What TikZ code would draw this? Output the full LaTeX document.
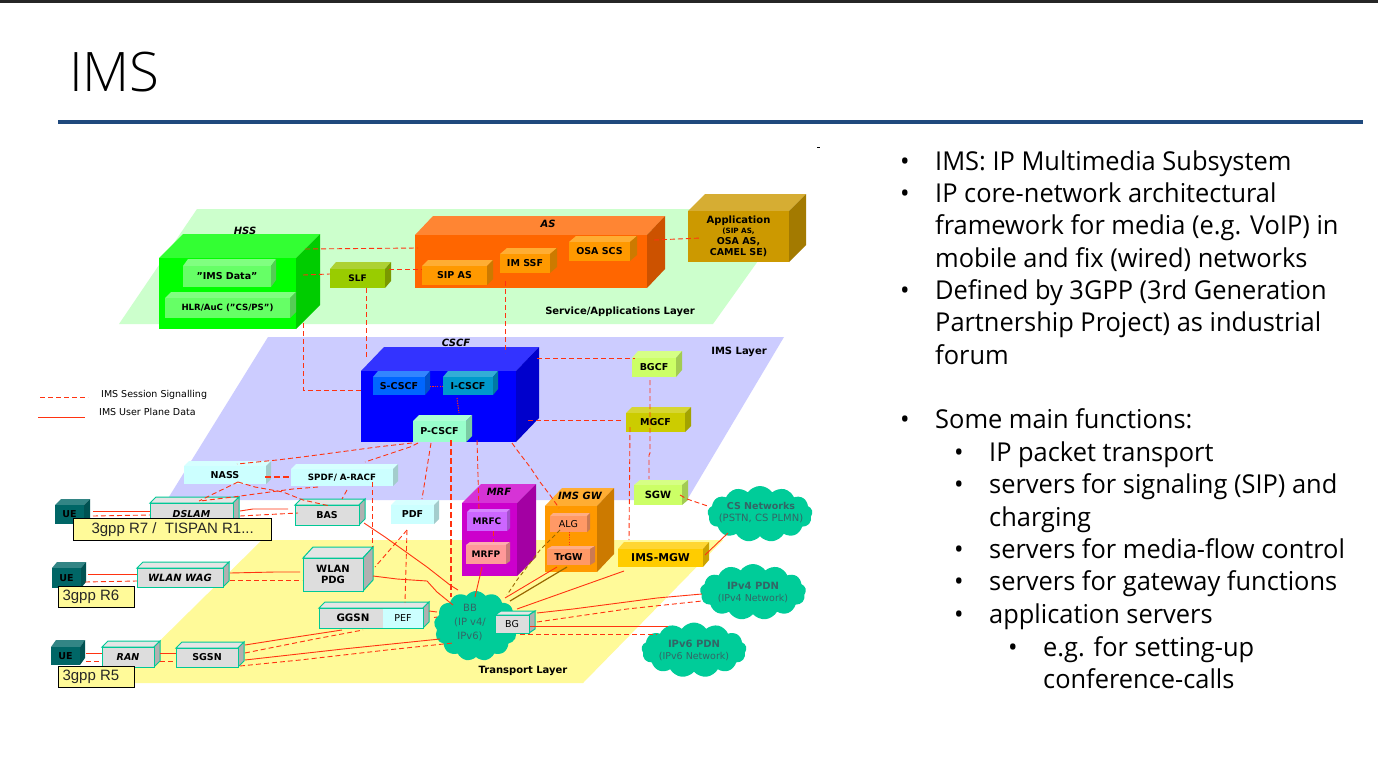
\documentclass[tikz,border=0pt]{standalone}
\usepackage{fontspec}
\usetikzlibrary{shapes.symbols}
\setmainfont{DejaVu Sans}
\newfontfamily\slidef[FakeStretch=0.977]{Open Sans}
\newfontfamily\titlef{Open Sans Light}
\newfontfamily\labf{Liberation Sans}
\newcommand\fsz[1]{\fontsize{#1}{12}\selectfont}
\newcommand\boxcol[4]{\definecolor{#1F}{HTML}{#2}\definecolor{#1T}{HTML}{#3}\definecolor{#1S}{HTML}{#4}\tikzset{#1E/.style={}}}
\boxcol{hss}{00FF00}{33FF33}{00CC00}
\boxcol{lime}{66FF66}{80FF80}{55CC55}
\boxcol{slf}{99CC00}{ADD133}{7A9900}
\boxcol{as}{FF6600}{FF8533}{CC5200}
\boxcol{org}{FF9900}{FFAD33}{CC7A00}
\boxcol{app}{CC9900}{D6AD33}{A37A00}
\boxcol{cscf}{0000FF}{3333FF}{0000CC}
\boxcol{sc}{0066FF}{3385FF}{0052CC}
\boxcol{ic}{0099CC}{33ADD6}{007AA3}
\boxcol{pc}{99FFCC}{ADFFD6}{7ACCA3}
\boxcol{bg}{CCFF66}{D6FF85}{A3CC52}
\boxcol{mg}{CCCC00}{D6D633}{A3A300}
\boxcol{cy}{CCFFFF}{D6FFFF}{A3CCCC}
\boxcol{gr}{DDDDDD}{E5E5E5}{B0B0B0}
\boxcol{ue}{006666}{338585}{005252}
\boxcol{mrf}{CC00CC}{D633D6}{A300A3}
\boxcol{mrfc}{CC66FF}{D685FF}{A352CC}
\boxcol{mrfp}{FF9999}{FFADAD}{CC7A7A}
\boxcol{alg}{FF9966}{FFAD85}{CC7A52}
\boxcol{mgw}{FFCC00}{FFD633}{CCA300}
\definecolor{edgeteal}{HTML}{00C896}
\definecolor{line}{HTML}{FF3311}
\definecolor{olive}{HTML}{996600}
\definecolor{cloudc}{HTML}{00CC99}
\definecolor{cloudt}{HTML}{336666}
\definecolor{rule}{HTML}{1F497D}
\tikzset{grE/.style={draw=edgeteal,line width=1pt}}
\tikzset{
 diag/.style={font=\fontsize{9.5}{11}\selectfont\bfseries,align=center,inner sep=0pt},
 diagit/.style={font=\fontsize{10}{11}\selectfont\bfseries\itshape,align=center,inner sep=0pt},
 layerl/.style={font=\fontsize{10}{11}\selectfont\bfseries,align=center,inner sep=0pt},
 sig/.style={draw=line,line width=.9pt,dash pattern=on 5pt off 3pt},
 sigthick/.style={draw=line,line width=2pt,dash pattern=on 6pt off 3pt},
 dotl/.style={draw=line,line width=1pt,dash pattern=on 1.2pt off 1.2pt},
 data/.style={draw=line,line width=.9pt},
 oldash/.style={draw=olive,line width=.9pt,dash pattern=on 4pt off 3pt},
 olsolid/.style={draw=olive,line width=1.2pt},
 rlabel/.style={draw=black,line width=1.3pt,fill=yellow!40!white,inner sep=0pt,anchor=north west,font=\fontsize{15}{17}\selectfont\labf,text=black!85},
 nuage/.style={cloud,cloud puffs=13,cloud puff arc=110,fill=cloudc,inner sep=0pt,cloud ignores aspect,align=center,text=cloudt,font=\fontsize{9.5}{12}\selectfont},
 slide/.style={anchor=base west,inner sep=0pt,font=\fontsize{26}{32}\selectfont\slidef,text=black},
 dot/.style={anchor=base,inner sep=0pt,font=\fontsize{26}{32}\selectfont\slidef,text=black},
}
% name x1 y1 x2 y2 dx dy family text
\newcommand\cub[9]{%
 \path[fill=#8T,#8E] (#2,#3) -- ++(#6,-#7) -- (#4+#6,#3-#7) -- (#4,#3) -- cycle;
 \path[fill=#8S,#8E] (#4,#3) -- (#4+#6,#3-#7) -- (#4+#6,#5-#7) -- (#4,#5) -- cycle;
 \pgfmathsetmacro\cubw{#4-#2}\pgfmathsetmacro\cubh{#5-#3}
 \node[diag,#8E,fill=#8F,minimum width=\cubw pt,minimum height=\cubh pt,outer sep=0pt,anchor=north west,rectangle] (#1) at (#2,#3) {#9};
}
\begin{document}
\begin{tikzpicture}[x=1pt,y=-1pt]
\useasboundingbox (0,0) rectangle (1378,765);
\fill[white] (0,0) rectangle (1378,765);
\fill[black!85] (0,0) rectangle (1378,3.5);
\node[anchor=base west,inner sep=0pt,font=\fontsize{54.5}{60}\selectfont\titlef] (title) at (69,92) {IMS};
\fill[rule] (58,120) rectangle (1363,124);
\fill[black] (817,147) rectangle (820,148);
% layers
\fill[hssF!20!white] (197,209) -- (795,209) -- (713,324) -- (119,324) -- cycle;
\fill[cscfF!20!white] (268,337) -- (784,337) -- (687,500) -- (167,500) -- cycle;
\fill[yellow!40!white] (262,540) -- (723,540) -- (583,683) -- (117,683) -- cycle;
% clouds
\node[nuage,minimum width=105pt,minimum height=56pt] (cs) at (760,514) {};
\node[inner sep=0pt,align=center,text=cloudt] (cst) at (761,513) {\bfseries\fsz{9.5}CS Networks\\\fsz{10}(PSTN, CS PLMN)};
\node[nuage,minimum width=106pt,minimum height=56pt] (ipv4) at (753,592) {\fontsize{10}{13}\selectfont\bfseries IPv4 PDN\\\fontsize{9.5}{12}\selectfont\mdseries (IPv4 Network)};
\node[nuage,minimum width=105pt,minimum height=55pt] (ipv6) at (694,650) {\fontsize{10}{13}\selectfont\bfseries IPv6 PDN\\\fontsize{9.5}{12}\selectfont\mdseries (IPv6 Network)};
\node[nuage,minimum width=84pt,minimum height=70pt] (bb) at (476,626) {};
\node[inner sep=0pt,align=center,text=cloudt,font=\fontsize{10}{14}\selectfont] (bbt) at (470,623) {BB\\(IP v4/\\IPv6)};
% boxes
\cub{hss}{159}{258}{296}{329}{24}{24}{hss}{}
\cub{imsd}{183}{266}{271}{287}{5}{7}{lime}{"IMS Data"}
\cub{hlr}{165}{298}{290}{318}{6}{6}{lime}{\fsz{8.6}HLR/AuC ("CS/PS")}
\cub{slf}{330}{269}{385}{288}{6}{7}{slf}{\fsz{9}SLF}
\cub{as}{415}{235}{647}{288}{18}{19}{as}{}
\cub{sipas}{422}{266}{487}{285}{6}{6}{org}{SIP AS}
\cub{imssf}{500}{254}{550}{273}{7}{6}{org}{IM SSF}
\cub{osa}{569}{242}{630}{261}{7}{6}{org}{OSA SCS}
\cub{app}{688}{211}{789}{262}{17}{17}{app}{\fontsize{10}{11}\selectfont Application\\[-1pt]\fontsize{7.2}{9.5}\selectfont (SIP AS,\\OSA AS,\\CAMEL SE)}
\cub{cscf}{361}{371}{516}{442}{23}{24}{cscf}{}
\cub{scscf}{373}{377}{425}{395}{5}{6}{sc}{S-CSCF}
\cub{icscf}{443}{377}{493}{395}{5}{6}{ic}{I-CSCF}
\cub{pcscf}{413}{421}{466}{442}{6}{6}{pc}{P-CSCF}
\cub{bgcf}{632}{358}{676}{377}{6}{7}{bg}{BGCF}
\cub{mgcf}{626}{413}{685}{432}{6}{6}{mg}{MGCF}
\cub{nass}{184}{466}{266}{484}{5}{5}{cy}{NASS}
\cub{spdf}{291}{469}{393}{486}{5}{5}{cy}{\fsz{8.7}SPDF/ A-RACF}
\cub{dslam}{150}{503}{233}{525}{6}{6}{gr}{\itshape DSLAM}
\cub{bas}{295}{505}{359}{525}{6}{6}{gr}{BAS}
\cub{pdf}{391}{505}{434}{524}{5}{5}{cy}{PDF}
\cub{ueA}{55}{505}{84}{524}{6}{6}{ue}{UE}
\cub{ueB}{52}{568}{81}{588}{5}{6}{ue}{UE}
\cub{ueC}{51}{647}{80}{665}{5}{7}{ue}{UE}
\cub{wag}{137}{568}{223}{587}{6}{6}{gr}{\itshape\fsz{10}WLAN WAG}
\cub{pdg}{303}{558}{363}{591}{10}{11}{gr}{\fsz{10}WLAN\\\fsz{10}PDG}
\cub{ggsn}{319}{608}{423}{628}{6}{6}{gr}{}
\cub{ran}{102}{647}{154}{667}{6}{6}{gr}{\itshape RAN}
\cub{sgsn}{176}{648}{238}{667}{6}{6}{gr}{SGSN}
\cub{mrf}{462}{503}{517}{576}{19}{19}{mrf}{}
\cub{mrfc}{467}{512}{507}{531}{3}{3}{mrfc}{\fsz{9}MRFC}
\cub{mrfp}{466}{545}{506}{564}{4}{3}{mrfp}{\fsz{9}MRFP}
\cub{imsgw}{545}{506}{597}{572}{17}{18}{org}{}
\cub{alg}{550}{516}{587}{532}{3}{3}{alg}{\mdseries ALG}
\cub{trgw}{547}{549}{590}{565}{5}{3}{alg}{TrGW}
\cub{mgw}{618}{549}{703}{567}{6}{7}{mgw}{\fsz{10.8}IMS-MGW}
\cub{sgw}{634}{485}{682}{505}{6}{5}{bg}{\fsz{10}SGW}
\node[diag,fill=cyF,minimum width=40pt,minimum height=19pt,outer sep=0pt,anchor=north west] (pef) at (383,608.5) {\mdseries PEF};
\node[diag,anchor=center] (ggsnt) at (353,618) {\fsz{10.3}GGSN};
% connectors
\draw[sig] ([shift={(146,-9)}]hss.north west) -- ([shift={(3,13)}]as.north west);
\draw[sig] ([shift={(144,17)}]hss.north west) -- ([shift={(0,5)}]slf.north west);
\draw[sig] ([shift={(59,0)}]slf.north west) -- ([shift={(0,3)}]sipas.north west);
\draw[sig] ([shift={(144,65)}]hss.north west) -- (303,390) -- ([shift={(0,19)}]cscf.north west);
\draw[sig] ([shift={(36,19)}]slf.north west) -- ([shift={(5,-14)}]cscf.north west);
\draw[sig] ([shift={(5,27)}]imssf.north west) -- ([shift={(144,-18)}]cscf.north west);
\draw[sig] ([shift={(239,5)}]as.north west) -- ([shift={(13,27)}]app.north west);
\draw[sig] ([shift={(176,-13)}]cscf.north west) -- ([shift={(3,0)}]bgcf.north west);
\draw[sig] ([shift={(18,22)}]bgcf.north west) -- (650,453) -- (649,455) -- ([shift={(15,-6)}]sgw.north west);
\draw[sig] ([shift={(167,49)}]cscf.north west) -- ([shift={(-4,7)}]mgcf.north west);
\draw[sig] ([shift={(4,14)}]mgcf.north west) -- ([shift={(11,-9)}]mgw.north west);
\draw[dotl] ([shift={(57,9)}]scscf.north west) -- ([shift={(0,9)}]icscf.north west);
\draw[dotl] ([shift={(14,21)}]icscf.north west) -- ([shift={(46,-8)}]pcscf.north west);
\draw[sig] ([shift={(46,10)}]sgw.north west) -- (687,499) -- ([shift={(0,-8)}]cs.west);
\draw[sig] ([shift={(-1,22)}]pcscf.north west) -- (377,447) -- (302,457) -- (277,460) -- ([shift={(53,-2)}]nass.north west);
\draw[sig] ([shift={(5,22)}]pcscf.north west) -- (410,447) -- (380,457) -- ([shift={(74,-7)}]spdf.north west);
\draw[sig] ([shift={(18,22)}]pcscf.north west) -- ([shift={(31,-6)}]pdf.north west);
\draw[sigthick] ([shift={(38,19)}]pcscf.north west) -- ([shift={(-25,-29)}]bb.center);
\draw[sig] ([shift={(116,69)}]cscf.north west) -- ([shift={(12,-2)}]mrfc.north west);
\draw[sig] ([shift={(151,72)}]cscf.north west) -- (517,450) -- (530,467) -- (540,482) -- (550,495) -- ([shift={(9,-8)}]alg.north west);
\draw[sig] ([shift={(26,19)}]mrfc.north west) -- ([shift={(27,-3)}]mrfp.north west);
\draw[dotl] ([shift={(19,16)}]alg.north west) -- ([shift={(22,-3)}]trgw.north west);
\draw[sigthick] ([shift={(81,11)}]nass.north west) -- ([shift={(0,8)}]spdf.north west);
\draw[sig] ([shift={(54,16)}]nass.north west) -- (207,497) -- ([shift={(49,-2)}]dslam.north west);
\draw[sig] ([shift={(27,18)}]spdf.north west) -- (293,489) -- (270,492) -- (233,497) -- ([shift={(50,-2)}]dslam.north west);
\draw[sig] ([shift={(56,21)}]spdf.north west) -- ([shift={(47,-6)}]bas.north west);
\draw[sig] ([shift={(54,16)}]nass.north west) -- (255,487) -- (283,492) -- (303,500) -- ([shift={(35,1)}]bas.north west);
\draw[sig] ([shift={(81,13)}]spdf.north west) -- ([shift={(69,-11)}]pdg.north west);
\draw[sig] ([shift={(16,25)}]pdf.north west) -- ([shift={(22,-6)}]pef.north west);
\draw[sig] ([shift={(16,25)}]pdf.north west) -- ([shift={(72,9)}]pdg.north west);
\draw[data] ([shift={(90,8)}]dslam.north west) -- (253,509) -- ([shift={(-7,4)}]bas.north west);
\draw[sig] ([shift={(90,13)}]dslam.north west) -- ([shift={(3,8)}]bas.north west);
\draw[data] ([shift={(38,6)}]ueA.north west) -- ([shift={(0,8)}]dslam.north west);
\draw[sig] ([shift={(38,11)}]ueA.north west) -- ([shift={(0,12)}]dslam.north west);
\draw[data] ([shift={(36,6)}]ueB.north west) -- ([shift={(0,6)}]wag.north west);
\draw[sig] ([shift={(33,14)}]ueB.north west) -- ([shift={(0,13)}]wag.north west);
\draw[data] ([shift={(93,5)}]wag.north west) -- (275,572) -- ([shift={(-3,14)}]pdg.north west);
\draw[sig] ([shift={(93,12)}]wag.north west) -- ([shift={(-1,22)}]pdg.north west);
\draw[data] ([shift={(35,6)}]ueC.north west) -- ([shift={(0,6)}]ran.north west);
\draw[sig] ([shift={(35,14)}]ueC.north west) -- ([shift={(0,14)}]ran.north west);
\draw[data] ([shift={(58,6)}]ran.north west) -- ([shift={(0,5)}]sgsn.north west);
\draw[sig] ([shift={(58,14)}]ran.north west) -- ([shift={(0,13)}]sgsn.north west);
\draw[data] ([shift={(69,-3)}]sgsn.north west) -- (283,639) -- ([shift={(23,22)}]ggsn.north west);
\draw[sig] ([shift={(69,5)}]sgsn.north west) -- (260,650) -- (315,639) -- ([shift={(44,22)}]ggsn.north west);
\draw[data] ([shift={(69,12)}]sgsn.north west) -- (343,649) -- ([shift={(-36,13)}]bb.center);
\draw[sig] ([shift={(64,18)}]sgsn.north west) -- (300,660) -- (387,650) -- ([shift={(-23,17)}]bb.center);
\draw[data] ([shift={(69,18)}]bas.north west) -- (385,537) -- (427,567) -- (450,585) -- ([shift={(-18,-36)}]bb.center);
\draw[data] ([shift={(70,18)}]pdg.north west) -- (397,579) -- (427,581) -- (437,592) -- ([shift={(-23,-21)}]bb.center);
\draw[data] ([shift={(110,3)}]ggsn.north west) -- ([shift={(-39,-14)}]bb.center);
\draw[sig] ([shift={(51,9)}]pef.north west) -- ([shift={(-39,-9)}]bb.center);
\draw[data] ([shift={(16,22)}]mrfp.north west) -- ([shift={(-1,-29)}]bb.center);
\draw[data] ([shift={(10,18)}]trgw.north west) -- ([shift={(29,-28)}]bb.center);
\draw[oldash] ([shift={(10,14)}]alg.north west) -- (540,550) -- (517,580) -- ([shift={(31,-31)}]bb.center);
\draw[olsolid] ([shift={(20,18)}]trgw.north west) -- ([shift={(34,-25)}]bb.center);
\draw[data] ([shift={(6,22)}]mgw.north west) -- ([shift={(41,-17)}]bb.center);
\draw[data] ([shift={(87,6)}]mgw.north west) -- ([shift={(-32,19)}]cs.center);
% BG box over cloud
\cub{bgb}{495}{615}{529}{633}{6}{4}{gr}{\mdseries BG}
\draw[data] ([shift={(42,-2)}]bgb.north west) -- (573,609) -- (657,598) -- ([shift={(-51,2)}]ipv4.center);
\draw[sig] ([shift={(42,7)}]bgb.north west) -- (627,609) -- ([shift={(-51,9)}]ipv4.center);
\draw[data] ([shift={(35,11)}]bgb.north west) -- ([shift={(-26,-24)}]ipv6.center);
\draw[sig] ([shift={(25,19)}]bgb.north west) -- ([shift={(-37,-16)}]ipv6.center);
% box titles
\node[diagit] (lhss) at (245,231) {HSS};
\node[diagit] (las) at (548,224) {AS};
\node[diagit] (lcscf) at (456,343) {CSCF};
\node[diagit] (lmrf) at (499,492) {MRF};
\node[diagit] (lgw) at (580,496) {IMS GW};
\node[layerl] (l1) at (620,312) {Service/Applications Layer};
\node[layerl] (l2) at (739,352) {IMS Layer};
\node[layerl] (l3) at (523,671) {Transport Layer};
% release labels
\node[rlabel,minimum width=198pt,minimum height=22pt] (rA) at (73,518) {3gpp R7 /\ \ TISPAN R1...};
\node[rlabel,minimum width=76pt,minimum height=21pt,align=left] (rB) at (58,586) {\,3gpp R6\hspace*{14pt}};
\node[rlabel,minimum width=76pt,minimum height=21pt] (rC) at (58,666) {\,3gpp R5\hspace*{14pt}};
% legend
\coordinate (la) at (40,397); \coordinate (lb) at (88,397);
\coordinate (lc) at (38,417); \coordinate (ld) at (85,417);
\draw[sig,line width=.7pt] (la) -- (lb);
\draw[data,line width=.7pt] (lc) -- (ld);
\node[anchor=west,inner sep=0pt,font=\fontsize{9.5}{10}\selectfont] (lt1) at (101,395) {IMS Session Signalling};
\node[anchor=west,inner sep=0pt,font=\fontsize{9.5}{10}\selectfont] (lt2) at (99,412) {IMS User Plane Data};
% slide text
\node[dot] (b1) at (905,170) {•};
\node[slide] (t1) at (935,170) {IMS: IP Multimedia Subsystem};
\node[dot] (b2) at (905,202) {•};
\node[slide] (t2) at (935,202) {IP core-network architectural};
\node[slide] (t3) at (935,234) {framework for media (e.g. VoIP) in};
\node[slide] (t4) at (935,267) {mobile and fix (wired) networks};
\node[dot] (b3) at (905,299) {•};
\node[slide] (t5) at (935,299) {Defined by 3GPP (3rd Generation};
\node[slide] (t6) at (935,331) {Partnership Project) as industrial};
\node[slide] (t7) at (935,364) {forum};
\node[dot] (b4) at (905,428) {•};
\node[slide] (t8) at (935,428) {Some main functions:};
\node[dot] (b5) at (959,461) {•};
\node[slide] (t9) at (989,461) {IP packet transport};
\node[dot] (b6) at (959,493) {•};
\node[slide] (t10) at (989,493) {servers for signaling (SIP) and};
\node[slide] (t11) at (989,526) {charging};
\node[dot] (b7) at (959,558) {•};
\node[slide] (t12) at (989,558) {servers for media-flow control};
\node[dot] (b8) at (959,590) {•};
\node[slide] (t13) at (989,590) {servers for gateway functions};
\node[dot] (b9) at (959,623) {•};
\node[slide] (t14) at (989,623) {application servers};
\node[dot] (b10) at (1013,656) {•};
\node[slide] (t15) at (1043,656) {e.g. for setting-up};
\node[slide] (t16) at (1043,688) {conference-calls};
\end{tikzpicture}
\end{document}
